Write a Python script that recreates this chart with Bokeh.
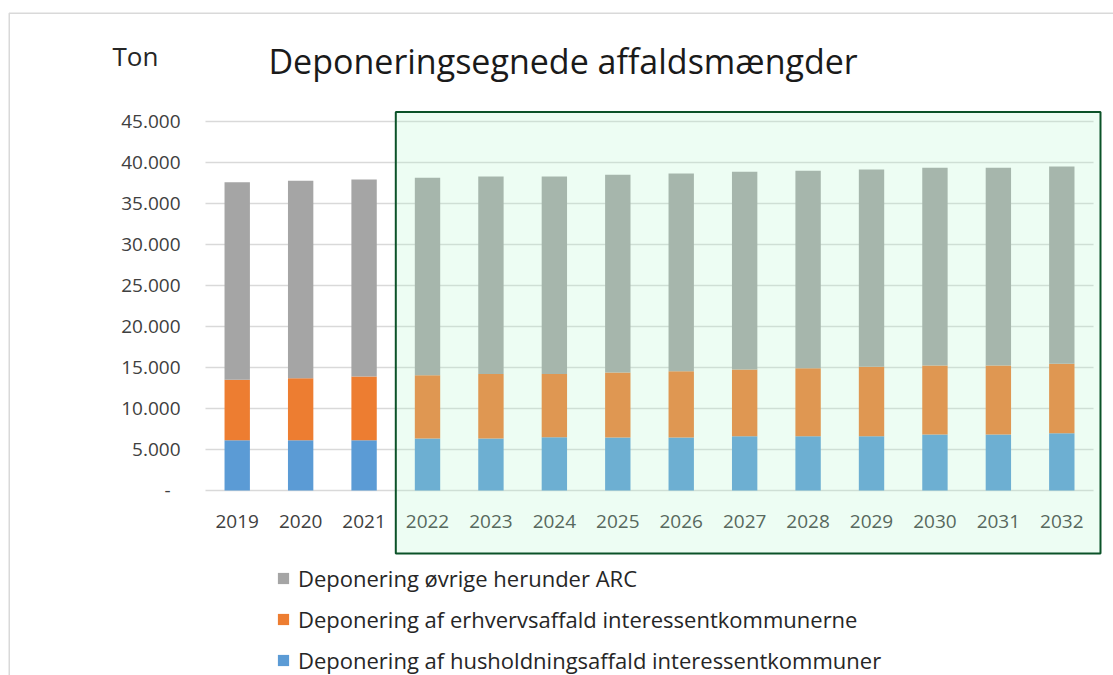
from bokeh.plotting import figure
from bokeh.models import (Range1d, FixedTicker, BoxAnnotation, Label,
                          Legend, LegendItem, ColumnDataSource)
from bokeh.embed import file_html
from bokeh.resources import INLINE

# ---- data (tons) ----
years = [str(y) for y in range(2019, 2033)]
husholdning = [6130, 6130, 6130, 6340, 6340, 6500, 6460, 6460, 6630, 6630, 6630, 6830, 6830, 6990]
erhverv = [7370, 7570, 7770, 7720, 7860, 7700, 7940, 8090, 8130, 8270, 8450, 8410, 8410, 8460]
ovrige = [24100, 24070, 24030, 24070, 24100, 24100, 24100, 24110, 24100, 24080, 24070, 24110, 24110, 24050]

series_keys = ["husholdning", "erhverv", "ovrige"]
series_labels = ["Deponering af husholdningsaffald interessentkommuner",
                 "Deponering af erhvervsaffald interessentkommunerne",
                 "Deponering øvrige herunder ARC"]
series_colors = ["#5B9BD5", "#ED7D31", "#A5A5A5"]

y_ticks = [0, 5000, 10000, 15000, 20000, 25000, 30000, 35000, 40000, 45000]
y_tick_labels = ["-\u00a0\u00a0", "5.000", "10.000", "15.000", "20.000", "25.000",
                 "30.000", "35.000", "40.000", "45.000"]

title_text = "Deponeringsegnede  affaldsmængder"
unit_text = "Ton"
forecast_first_index = 3  # 2022 starts the projection period

FONT = "Open Sans"
TICK_COLOR = "#404040"
GRID = "#D9D9D9"

W, H = 1113, 675
n = len(years)
slot = [i + 0.5 for i in range(n)]  # centre of each year's slot on the category scale

src = ColumnDataSource(dict(x=slot, year=years, husholdning=husholdning,
                            erhverv=erhverv, ovrige=ovrige))

# ranges chosen so that the category band 0..n and 0..45000 sit where the chart area is
p = figure(width=W, height=H, output_backend="svg", toolbar_location=None,
           x_range=Range1d(-3.232, 14.315), y_range=Range1d(-22561, 59756),
           min_border=0)
p.outline_line_color = None
p.background_fill_color = "white"
p.border_fill_color = "white"
p.xgrid.visible = False
p.ygrid.visible = False

# horizontal gridlines across the category band
p.segment(x0=0, x1=n, y0=y_ticks, y1=y_ticks, line_color=GRID, line_width=1.5)

rs = p.vbar_stack(series_keys, x="x", width=0.4, color=series_colors, line_color=None, source=src)

# axes
p.xaxis.fixed_location = 0
p.yaxis.fixed_location = 0
p.xaxis.ticker = FixedTicker(ticks=slot)
p.xaxis.major_label_overrides = {s: y for s, y in zip(slot, years)}
p.yaxis.ticker = FixedTicker(ticks=y_ticks)
p.yaxis.major_label_overrides = {t: l for t, l in zip(y_ticks, y_tick_labels)}
for ax in (p.xaxis[0], p.yaxis[0]):
    ax.axis_line_color = None
    ax.major_tick_line_color = None
    ax.minor_tick_line_color = None
    ax.major_tick_out = 0
    ax.major_tick_in = 0
    ax.major_label_text_font = FONT
    ax.major_label_text_font_size = "19px"
    ax.major_label_text_color = TICK_COLOR
p.yaxis.major_label_standoff = 25
p.xaxis.major_label_standoff = 25

# legend
items = [LegendItem(label=series_labels[i], renderers=[rs[i]]) for i in (2, 1, 0)]
legend = Legend(items=items, location=(276, 0), orientation="vertical",
                background_fill_alpha=0, border_line_color=None,
                label_text_font=FONT, label_text_font_size="22px", label_text_color="#262626",
                glyph_width=14, glyph_height=14, label_height=29, label_standoff=8,
                spacing=11, padding=0, margin=0)
p.add_layout(legend, "center")

# title and unit
p.add_layout(Label(x=5.707, y=52317, text=title_text, text_align="center",
                   text_baseline="alphabetic", text_font=FONT, text_font_size="34px",
                   text_color="#1a1a1a"))
p.add_layout(Label(x=-1.104, y=53048, text=unit_text, text_align="center",
                   text_baseline="alphabetic", text_font=FONT, text_font_size="26px",
                   text_color="#262626"))

# projection period highlight
p.add_layout(BoxAnnotation(left=forecast_first_index, right=14.11, top=46159, bottom=-7683,
                           fill_color="#ACF6C8", fill_alpha=0.22,
                           line_color="#0B5228", line_alpha=1, line_width=2, level="overlay"))

# chart-area border (light grey, cut by the window at right/bottom)
p.add_layout(BoxAnnotation(left=8.75, right=W + 20, top=12.75, bottom=H + 20,
                           left_units="canvas", right_units="canvas",
                           top_units="canvas", bottom_units="canvas",
                           fill_alpha=0, line_color=GRID, line_alpha=1, line_width=1.5))

open("out.html", "w").write(file_html(p, INLINE))
